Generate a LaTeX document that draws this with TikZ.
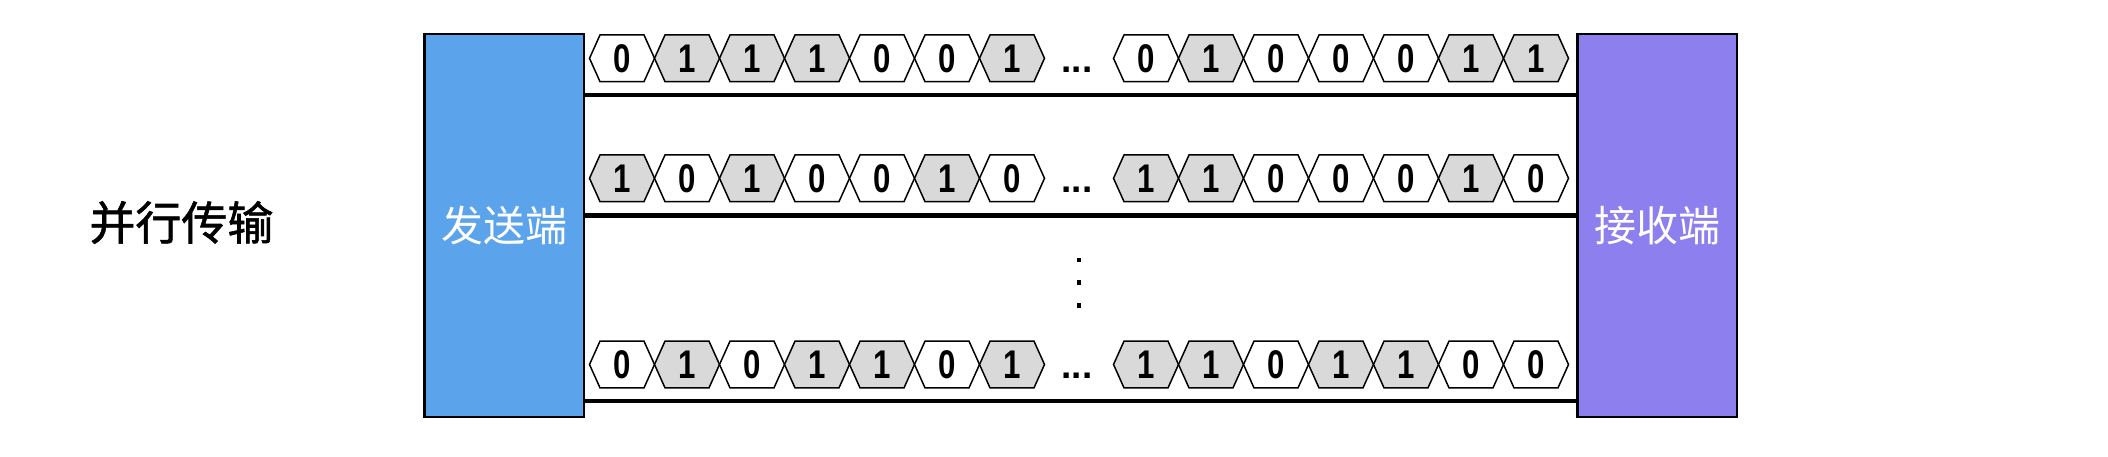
\documentclass[tikz,border=0pt]{standalone}
\usepackage{fontspec}
\newfontfamily\cjk{Noto Sans CJK SC}
\newfontfamily\cjkbold{Noto Sans CJK SC}[FakeBold=1.2]
\newfontfamily\digitfont{Liberation Sans}[FakeStretch=0.78]
\newfontfamily\dotfont{Liberation Sans}
\definecolor{sendblue}{HTML}{5BA3EB}
\definecolor{recvpurple}{HTML}{8E7FEF}
\definecolor{bitgray}{HTML}{D9D9D9}
\tikzset{
  endbox/.style={draw=black, line width=2.5pt, minimum width=159.5pt, minimum height=383pt, inner sep=0pt, text=white, font=\fontsize{42}{46}\selectfont\cjk},
  hexcell/.style={draw=black, line width=1.5pt, line join=miter},
  bit0/.style={fill=white},
  bit1/.style={fill=bitgray},
  digit/.style={anchor=base, inner sep=0pt, font=\fontsize{40}{44}\selectfont\digitfont\bfseries},
  hdots/.style={anchor=base, inner sep=0pt, font=\fontsize{37}{40}\selectfont\dotfont\bfseries},
  wire/.style={draw=black, line width=4.7pt},
  title/.style={font=\fontsize{46}{50}\selectfont\cjkbold, inner sep=0pt}
}
\newcommand\hexgroup[4]{% #1 name, #2 x start, #3 y centre, #4 bits
  \foreach \b [count=\k] in {#4} {
    \pgfmathsetmacro\xl{#2+(\k-1)*65}
    \draw[hexcell, bit\b] (\xl,#3) -- ({\xl+10.5},{#3-23.35}) -- ({\xl+54.5},{#3-23.35}) -- ({\xl+65},#3) -- ({\xl+54.5},{#3+23.35}) -- ({\xl+10.5},{#3+23.35}) -- cycle;
    \node[digit] (d#1\k) at ({\xl+32.5},{#3+14}) {\b};
  }
}
\begin{document}
\begin{tikzpicture}[x=1pt, y=-1pt]
\useasboundingbox (0,0) rectangle (2108,456);
\node[title] (ttl) at (181.4,222.5) {并行传输};
\node[endbox, fill=sendblue] (snd) at (504,225.5) {发送端};
\node[endbox, fill=recvpurple] (rcv) at (1657,225.5) {接收端};
% wires
\coordinate (w1) at (0,95);
\coordinate (w2) at (0,215.5);
\coordinate (w3) at (0,401);
\draw[wire] (snd.east |- w1) -- (rcv.west |- w1);
\draw[wire] (snd.east |- w2) -- (rcv.west |- w2);
\draw[wire] (snd.east |- w3) -- (rcv.west |- w3);
% hex bit cells
\hexgroup{1A}{589.5}{58.3}{0,1,1,1,0,0,1}
\hexgroup{1B}{1113.5}{58.3}{0,1,0,0,0,1,1}
\hexgroup{2A}{589.5}{178.3}{1,0,1,0,0,1,0}
\hexgroup{2B}{1113.5}{178.3}{1,1,0,0,0,1,0}
\hexgroup{3A}{589.5}{364.5}{0,1,0,1,1,0,1}
\hexgroup{3B}{1113.5}{364.5}{1,1,0,1,1,0,0}
\node[hdots] (el1) at (1077,72.3) {...};
\node[hdots] (el2) at (1077,192.3) {...};
\node[hdots] (el3) at (1077,378.5) {...};
% vertical dots
\foreach \vy in {260,282.7,305.7}{
  \fill[black] (1076.6,{\vy-2.4}) rectangle (1081.4,{\vy+2.4});
}
\end{tikzpicture}
\end{document}
